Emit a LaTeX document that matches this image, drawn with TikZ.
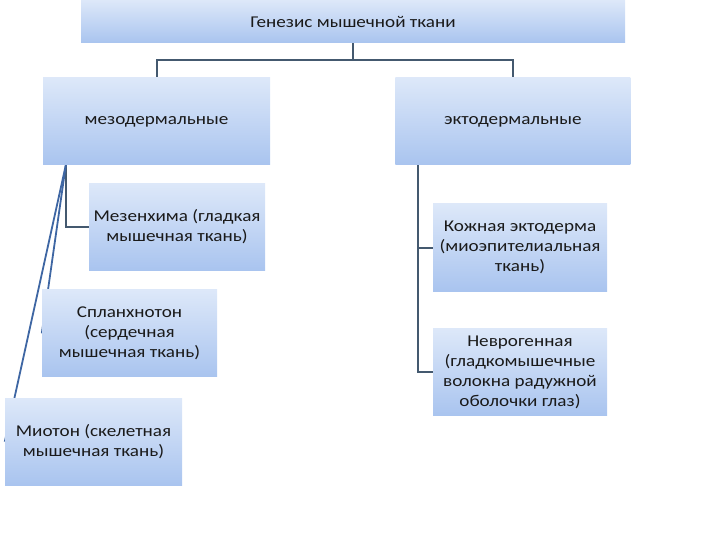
\documentclass[tikz,border=0pt]{standalone}
\usepackage{fontspec}
\setmainfont{Carlito}[FakeStretch=1.16]
\usepackage{tikz}
\usetikzlibrary{positioning,calc,backgrounds}
\definecolor{boxtop}{HTML}{DDE8F9}
\definecolor{boxbot}{HTML}{A9C4EF}
\definecolor{ink}{HTML}{1A1A1A}
\definecolor{wire}{HTML}{44596F}
\definecolor{slant}{HTML}{3E66A3}

\begin{document}
\begin{tikzpicture}[x=1pt,y=-1pt,
  font=\fontsize{16.5}{20}\selectfont,
  box/.style={top color=boxtop,bottom color=boxbot,draw=none,align=center,text=ink,inner sep=2pt,minimum height=87pt},
  wire/.style={draw=wire,line width=2pt},
  slantwire/.style={draw=slant,line width=1.8pt}]
  \useasboundingbox (0,0) rectangle (720,540);
  \node[box,minimum width=544pt,minimum height=43pt] (top) at (353,21.5) {Генезис мышечной ткани};
  \node[box,minimum width=227pt] (meso) at (156.5,121.5) {мезодермальные};
  \node[box,minimum width=235pt,right=125pt of meso] (ecto) {эктодермальные};
  \node[box,minimum width=176pt,below=18pt of meso,xshift=20.5pt] (mes) {Мезенхима (гладкая\\мышечная ткань)};
  \node[box,minimum width=175pt,below=19pt of mes,xshift=-47.5pt] (spl) {Спланхнотон\\(сердечная\\мышечная ткань)};
  \node[box,minimum width=177pt,below=21pt of spl,xshift=-36pt] (mio) {Миотон (скелетная\\мышечная ткань)};
  \node[box,minimum width=174pt] (kozh) at (520,247.5) {Кожная эктодерма\\(миоэпителиальная\\ткань)};
  \node[box,minimum width=174pt,below=37pt of kozh] (nevro) {Неврогенная\\(гладкомышечные\\волокна радужной\\оболочки глаз)};

  \coordinate (hub) at ($(top.south)+(0,17)$);
  \coordinate (mtap) at ($(meso.south west)+(23,0)$);
  \coordinate (etap) at ($(ecto.south west)+(23,0)$);
  \begin{scope}[on background layer]
    \draw[wire] (top.south) -- (hub);
    \draw[wire] (hub) -| (meso.north);
    \draw[wire] (hub) -| (ecto.north);
    \draw[wire] (mtap) |- (mes.west);
    \draw[slantwire] (mtap) -- (spl.west);
    \draw[slantwire] (mtap) -- (mio.west);
    \draw[wire] (etap) |- (kozh.west);
    \draw[wire] (etap) |- (nevro.west);
  \end{scope}
\end{tikzpicture}
\end{document}
